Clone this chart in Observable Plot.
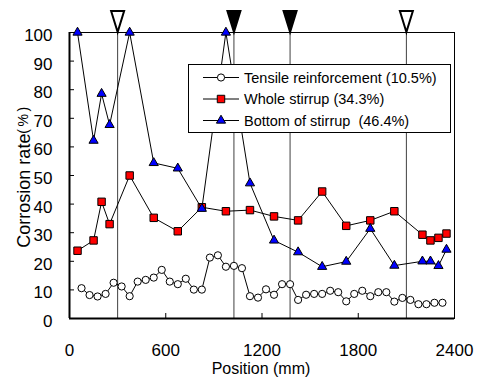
<!DOCTYPE html>
<html>
<head>
<meta charset="utf-8">
<script src="https://cdn.jsdelivr.net/npm/d3@7"></script>
<script src="https://cdn.jsdelivr.net/npm/@observablehq/plot@0.6"></script>
<style>
  html, body { margin: 0; padding: 0; background: white; }
  #chart svg { display: block; }
</style>
</head>
<body>
<div id="chart"></div>
<script>
// ---- data ----
const tensilePos = [75,125,175,225,275,325,375,425,475,525,575,625,675,725,775,825,875,925,975,1025,1075,1125,1175,1225,1275,1325,1375,1425,1475,1525,1575,1625,1675,1725,1775,1825,1875,1925,1975,2025,2075,2125,2175,2225,2275,2325];
const tensileRate = [10.6,8.2,7.7,8.6,12.5,11.2,7.8,12.9,13.5,14.3,17.0,12.9,12.0,13.9,10.1,10.1,21.3,22.1,18.1,18.4,17.6,7.8,7.3,10.2,8.3,12.0,12.0,6.5,8.3,8.6,8.6,9.7,9.2,6.0,8.6,9.7,7.8,9.2,9.2,5.9,7.2,6.5,5.0,5.0,5.5,5.5];
const stirrupPos = [50,150,200,250,375,525,675,825,975,1125,1275,1425,1575,1725,1875,2025,2200,2250,2300,2350];
const wholeRate = [23.7,27.3,40.8,33.0,50.0,35.2,30.5,38.9,37.5,37.9,35.7,34.3,44.4,32.4,34.3,37.5,29.3,27.3,28.2,29.7];
const bottomRate = [100,62.2,78.6,67.7,100,54.4,52.5,38.4,100,47.3,27.3,23.2,18.1,19.9,31.4,18.5,20.0,20.0,18.4,24.1];
const dividerPos = [300,1025,1375,2100];
const dividerFilled = [false,true,true,false];
const xTicks = [0,600,1200,1800,2400];
const yTicks = [0,10,20,30,40,50,60,70,80,90,100];
const seriesNames = ["Tensile reinforcement (10.5%)","Whole stirrup (34.3%)","Bottom of stirrup  (46.4%)"];

// ---- tables ----
const tensile = tensilePos.map((p,i)=>({pos:p, rate:tensileRate[i]}));
const whole = stirrupPos.map((p,i)=>({pos:p, rate:wholeRate[i]}));
const bottom = stirrupPos.map((p,i)=>({pos:p, rate:bottomRate[i]}));
const dividers = dividerPos.map((p,i)=>({pos:p, filled:dividerFilled[i]}));

const downTri = {
  draw(ctx) {
    ctx.moveTo(0,-0.5);
    ctx.lineTo(-6.5,-21.5);
    ctx.lineTo(6.5,-21.5);
    ctx.closePath();
  }
};

const font = "'Liberation Sans', Arial, sans-serif";

const chart = Plot.plot({
  width: 478,
  height: 386,
  marginLeft: 69,
  marginRight: 24,
  marginTop: 32,
  marginBottom: 68,
  style: {fontFamily: font, background: "white", color: "black", overflow: "visible"},
  x: {domain: [0,2400]},
  y: {domain: [0,100]},
  marks: [
    Plot.ruleX(dividers, {x: "pos", stroke: "#404040", strokeWidth: 1}),
    Plot.frame({stroke: "black", strokeWidth: 1}),
    Plot.ruleX([0], {stroke: "black", strokeWidth: 2}),
    Plot.ruleY([0], {stroke: "black", strokeWidth: 2}),
    Plot.tickY(yTicks, {y: d=>d, insetRight: 380, stroke: "black", strokeWidth: 1}),
    Plot.tickX(xTicks, {x: d=>d, insetTop: 281, stroke: "black", strokeWidth: 1}),
    Plot.axisY({ticks: yTicks, tickSize: 0, tickPadding: 17, fontSize: 17, dy: 3, label: null, tickFormat: d => String(d)}),
    Plot.axisX({ticks: xTicks, tickSize: 0, tickPadding: 25, fontSize: 17, label: null, tickFormat: d => String(d)}),
    // Tensile reinforcement
    Plot.line(tensile, {x: "pos", y: "rate", stroke: "black", strokeWidth: 1}),
    Plot.dot(tensile, {x: "pos", y: "rate", r: 3.6, fill: "white", stroke: "black", strokeWidth: 1}),
    // Whole stirrup
    Plot.line(whole, {x: "pos", y: "rate", stroke: "black", strokeWidth: 1}),
    Plot.dot(whole, {x: "pos", y: "rate", symbol: "square", r: 4.2, fill: "#ff0000", stroke: "black", strokeWidth: 1}),
    // Bottom of stirrup
    Plot.line(bottom, {x: "pos", y: "rate", stroke: "black", strokeWidth: 1}),
    Plot.dot(bottom, {x: "pos", y: "rate", symbol: "triangle", r: 3.4, fill: "#0000ff", stroke: "black", strokeWidth: 1}),
    // markers above the frame
    Plot.dot(dividers.filter(d=>!d.filled), {x: "pos", y: () => 100, symbol: downTri, r: 5, fill: "white", stroke: "black", strokeWidth: 2}),
    Plot.dot(dividers.filter(d=>d.filled), {x: "pos", y: () => 100, symbol: downTri, r: 5, fill: "black", stroke: "black", strokeWidth: 2})
  ]
});

document.getElementById("chart").appendChild(chart);

// ---- titles and legend ----
const svg = d3.select(chart);

svg.append("text")
  .attr("x", 261).attr("y", 374)
  .attr("text-anchor", "middle")
  .attr("font-family", font).attr("font-size", 16).attr("fill", "black")
  .text("Position (mm)");

const yt = svg.append("text")
  .attr("transform", "translate(30,176) rotate(-90)")
  .attr("text-anchor", "middle")
  .attr("font-family", font).attr("font-size", 18).attr("fill", "black");
yt.append("tspan").text("Corrosion rate");
yt.append("tspan").attr("font-size", 14).attr("dy", -2).attr("letter-spacing", 2.5).text("(%)");

const lg = svg.append("g").attr("font-family", font).attr("text-anchor", "start");
lg.append("rect").attr("x", 188.5).attr("y", 64.5).attr("width", 262).attr("height", 68)
  .attr("fill", "white").attr("stroke", "black").attr("stroke-width", 1);
const rowsY = [77.5, 99, 120.5];
const symbolDefs = [
  {type: d3.symbolCircle, r: 3.6, fill: "white"},
  {type: d3.symbolSquare, r: 4.2, fill: "#ff0000"},
  {type: d3.symbolTriangle, r: 3.4, fill: "#0000ff"}
];
seriesNames.forEach((name, i) => {
  const y = rowsY[i];
  lg.append("line").attr("x1", 203).attr("x2", 239).attr("y1", y).attr("y2", y)
    .attr("stroke", "black").attr("stroke-width", 1);
  const s = symbolDefs[i];
  lg.append("path").attr("transform", `translate(221,${y})`)
    .attr("d", d3.symbol(s.type, Math.PI * s.r * s.r)())
    .attr("fill", s.fill).attr("stroke", "black").attr("stroke-width", 1);
  lg.append("text").attr("x", 244).attr("y", y + 5.2)
    .attr("text-anchor", "start")
    .attr("font-size", 14.5).attr("fill", "black")
    .style("white-space", "pre")
    .text(name);
});
</script>
</body>
</html>
